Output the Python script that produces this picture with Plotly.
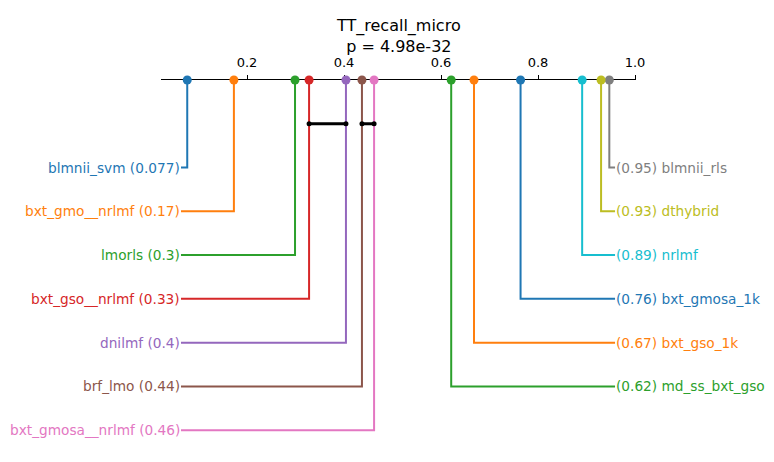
import plotly.graph_objects as go

title_text = "TT_recall_micro"
p_text = "p = 4.98e-32"

left_names = ["blmnii_svm", "bxt_gmo__nrlmf", "lmorls", "bxt_gso__nrlmf",
              "dnilmf", "brf_lmo", "bxt_gmosa__nrlmf"]
left_values = [0.0768, 0.173, 0.299, 0.328, 0.404, 0.437, 0.462]
left_colors = ["#1f77b4", "#ff7f0e", "#2ca02c", "#d62728", "#9467bd", "#8c564b", "#e377c2"]

right_names = ["blmnii_rls", "dthybrid", "nrlmf", "bxt_gmosa_1k", "bxt_gso_1k", "md_ss_bxt_gso"]
right_values = [0.947, 0.930, 0.891, 0.764, 0.668, 0.621]
right_colors = ["#7f7f7f", "#bcbd22", "#17becf", "#1f77b4", "#ff7f0e", "#2ca02c"]

cliques = [(0.328, 0.404), (0.437, 0.462)]

tick_vals = [0.2, 0.4, 0.6, 0.8, 1.0]
tick_text = ["0.2", "0.4", "0.6", "0.8", "1.0"]

FONT = "DejaVu Sans"
AXIS_Y = -2
CLIQUE_Y = -1
LEFT_END = 0.0639
RIGHT_END = 0.9588

fig = go.Figure()

for i, (n, v, c) in enumerate(zip(left_names, left_values, left_colors)):
    fig.add_trace(go.Scatter(x=[v, v, LEFT_END], y=[AXIS_Y, i, i], mode="lines",
                             line=dict(color=c, width=2), hoverinfo="skip", showlegend=False))
    fig.add_annotation(x=LEFT_END, y=i, xref="x", yref="y", text=f"{n} ({v:.2g})",
                       showarrow=False, xanchor="right", yanchor="middle",
                       font=dict(family=FONT, size=13.7, color=c), xshift=1)

for i, (n, v, c) in enumerate(zip(right_names, right_values, right_colors)):
    fig.add_trace(go.Scatter(x=[v, v, RIGHT_END], y=[AXIS_Y, i, i], mode="lines",
                             line=dict(color=c, width=2), hoverinfo="skip", showlegend=False))
    fig.add_annotation(x=RIGHT_END, y=i, xref="x", yref="y", text=f"({v:.2g}) {n}",
                       showarrow=False, xanchor="left", yanchor="middle",
                       font=dict(family=FONT, size=13.7, color=c), xshift=-1)

for a, b in cliques:
    fig.add_trace(go.Scatter(x=[a, b], y=[CLIQUE_Y, CLIQUE_Y], mode="lines+markers",
                             line=dict(color="black", width=3),
                             marker=dict(color="black", size=5),
                             hoverinfo="skip", showlegend=False, cliponaxis=False))

all_vals = left_values + right_values
all_cols = left_colors + right_colors
fig.add_trace(go.Scatter(x=all_vals, y=[AXIS_Y] * len(all_vals), mode="markers",
                         marker=dict(color=all_cols, size=9, line=dict(width=0)),
                         hoverinfo="skip", showlegend=False, cliponaxis=False))

fig.add_annotation(x=0.5, y=1, xref="paper", yref="paper",
                   text=f"{title_text}<br>{p_text}", showarrow=False,
                   xanchor="center", yanchor="middle", yshift=44,
                   font=dict(family=FONT, size=16, color="black"))

fig.update_layout(
    width=774, height=462,
    margin=dict(l=161, r=138, t=80, b=20),
    plot_bgcolor="white", paper_bgcolor="white",
    xaxis=dict(range=[0.0227, 1.002], side="top", showgrid=False, zeroline=False,
               showline=True, linecolor="black", linewidth=1,
               ticks="outside", ticklen=4, tickwidth=1, tickcolor="black",
               tickvals=tick_vals, ticktext=tick_text, ticklabelstandoff=3,
               tickfont=dict(family=FONT, size=13, color="black"),
               layer="below traces", fixedrange=True),
    yaxis=dict(range=[6.27, AXIS_Y], visible=False, showgrid=False, zeroline=False,
               fixedrange=True),
)

fig.write_html("out.html")
